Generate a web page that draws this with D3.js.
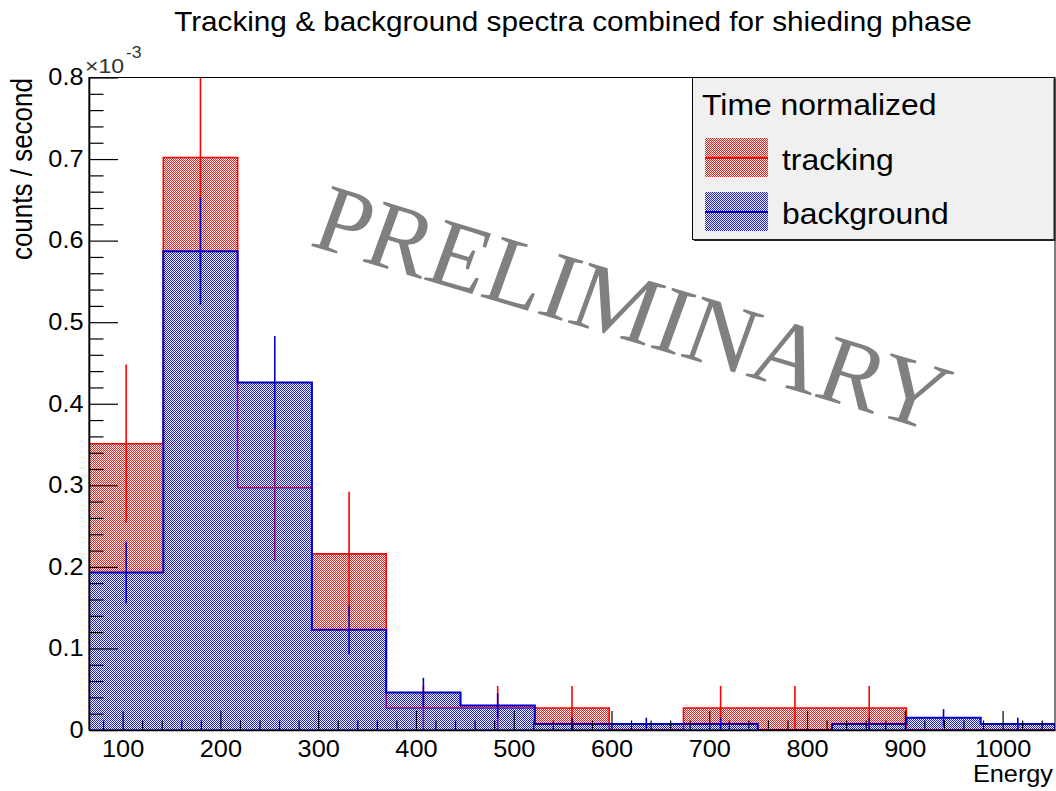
<!DOCTYPE html>
<html>
<head>
<meta charset="utf-8">
<script src="https://cdn.jsdelivr.net/npm/d3@7"></script>
<style>
  html, body { margin: 0; padding: 0; background: #fff; }
  svg { display: block; }
  text { font-family: "Liberation Sans", Arial, Helvetica, sans-serif; fill: #000; }
</style>
</head>
<body>
<svg id="chart" width="1056" height="791"></svg>
<script>
// Energy bin edges (13 equal bins)
const binEdges = [65.6, 141.6, 217.6, 293.6, 369.6, 445.6, 521.6, 597.6, 673.6, 749.6, 825.6, 901.6, 977.6, 1053.6];

// Time-normalized rates, in units of 1e-3 counts / second
const trackingRate   = [0.351, 0.702, 0.297, 0.216, 0.027, 0.027, 0.027, 0, 0.027, 0.027, 0.027, 0, 0];
const trackingErr    = [0.097, 0.138, 0.090, 0.076, 0.027, 0.027, 0.027, 0, 0.027, 0.027, 0.027, 0, 0];
const backgroundRate = [0.193, 0.587, 0.426, 0.123, 0.046, 0.030, 0.0075, 0.0075, 0.0075, 0, 0.0075, 0.015, 0.0075];
const backgroundErr  = [0.038, 0.066, 0.057, 0.030, 0.018, 0.015, 0.0075, 0.0075, 0.0075, 0, 0.0075, 0.0106, 0.0075];

const xTickValues = [100, 200, 300, 400, 500, 600, 700, 800, 900, 1000];
const yTickValues = [0, 0.1, 0.2, 0.3, 0.4, 0.5, 0.6, 0.7, 0.8];
const yTickLabels = ["0", "0.1", "0.2", "0.3", "0.4", "0.5", "0.6", "0.7", "0.8"];

const seriesNames = ["tracking", "background"];

// Layout
const frame = { left: 89, right: 1055, top: 77.5, bottom: 730 };
const SX = 1.1; // horizontal text stretch

const svg = d3.select("#chart");

const x = d3.scaleLinear().domain([binEdges[0], binEdges[binEdges.length - 1]]).range([frame.left, frame.right]);
const y = d3.scaleLinear().domain([0, 0.8]).range([frame.bottom, frame.top]);

// Dotted fill patterns (transparent between the dots)
const defs = svg.append("defs");
function dotPattern(id, color) {
  const p = defs.append("pattern").attr("id", id)
    .attr("patternUnits", "userSpaceOnUse").attr("width", 2).attr("height", 2);
  p.append("rect").attr("x", 0).attr("y", 0).attr("width", 1).attr("height", 1)
    .attr("fill", color).attr("shape-rendering", "crispEdges");
  p.append("rect").attr("x", 1).attr("y", 1).attr("width", 1).attr("height", 1)
    .attr("fill", color).attr("shape-rendering", "crispEdges");
}
dotPattern("patRed", "#ff1a1a");
dotPattern("patBlue", "#1a1aff");

defs.append("clipPath").attr("id", "frameClip")
  .append("rect").attr("x", frame.left).attr("y", frame.top)
  .attr("width", frame.right - frame.left).attr("height", frame.bottom - frame.top);

function txt(g, str, tx, ty, size, anchor, extra) {
  return g.append("text")
    .attr("transform", `translate(${tx},${ty}) scale(${SX},1)` + (extra || ""))
    .attr("text-anchor", anchor)
    .attr("font-size", size)
    .text(str);
}

// Histograms
const plot = svg.append("g").attr("clip-path", "url(#frameClip)");

function histPoints(vals) {
  const pts = vals.map((v, i) => ({ e: binEdges[i], v }));
  pts.push({ e: binEdges[binEdges.length - 1], v: vals[vals.length - 1] });
  return pts;
}

const area = d3.area()
  .x(d => x(d.e))
  .y0(y(0))
  .y1(d => y(d.v))
  .curve(d3.curveStepAfter);

const edgeLine = d3.line().x(d => x(d.e)).y(d => y(d.v));

function drawHist(vals, errs, pat, lineColor, lineW, errColor) {
  const pts = histPoints(vals);
  plot.append("path").attr("d", area(pts)).attr("fill", `url(#${pat})`).attr("stroke", "none");
  // stepped outline
  const stepPts = [{ e: binEdges[0], v: 0 }];
  vals.forEach((v, i) => { stepPts.push({ e: binEdges[i], v }); stepPts.push({ e: binEdges[i + 1], v }); });
  stepPts.push({ e: binEdges[binEdges.length - 1], v: 0 });
  plot.append("path")
    .attr("d", edgeLine(stepPts))
    .attr("fill", "none").attr("stroke", lineColor).attr("stroke-width", lineW);
  // error bars at bin centres
  plot.append("g").selectAll("line")
    .data(vals.map((v, i) => ({ v, err: errs[i], c: (binEdges[i] + binEdges[i + 1]) / 2 })).filter(d => d.v > 0))
    .join("line")
    .attr("x1", d => x(d.c)).attr("x2", d => x(d.c))
    .attr("y1", d => y(d.v - d.err)).attr("y2", d => y(d.v + d.err))
    .attr("stroke", errColor).attr("stroke-width", 1.6);
}

drawHist(trackingRate, trackingErr, "patRed", "#ff0000", 1.6, "#ff0000");
drawHist(backgroundRate, backgroundErr, "patBlue", "#0000c8", 2, "#0000c8");

// Frame
svg.append("rect")
  .attr("x", frame.left).attr("y", frame.top)
  .attr("width", frame.right - frame.left).attr("height", frame.bottom - frame.top)
  .attr("fill", "none").attr("stroke", "#000").attr("stroke-width", 1);

// X axis (ticks pointing inward)
const xMinor = d3.range(80, 1054, 20).filter(v => v % 100 !== 0);
const xAxisMinor = svg.append("g").attr("transform", `translate(0,${frame.bottom})`)
  .call(d3.axisBottom(x).tickValues(xMinor).tickSizeInner(-9.5).tickSizeOuter(0).tickFormat(""));
xAxisMinor.select(".domain").remove();
const xAxis = svg.append("g").attr("transform", `translate(0,${frame.bottom})`)
  .call(d3.axisBottom(x).tickValues(xTickValues).tickSizeInner(-19).tickSizeOuter(0).tickPadding(10.5).tickFormat(d => String(d)));
xAxis.select(".domain").attr("stroke-width", 1.6);
xAxis.selectAll(".tick text")
  .attr("font-size", 23)
  .attr("transform", `scale(${SX},1)`).style("fill", "#000");

// Y axis
const yMinor = d3.range(0, 0.8001, 0.02).filter((v, i) => i % 5 !== 0);
const yAxisMinor = svg.append("g").attr("transform", `translate(${frame.left},0)`)
  .call(d3.axisLeft(y).tickValues(yMinor).tickSizeInner(-14.5).tickSizeOuter(0).tickFormat(""));
yAxisMinor.select(".domain").remove();
const yAxis = svg.append("g").attr("transform", `translate(${frame.left},0)`)
  .call(d3.axisLeft(y).tickValues(yTickValues).tickSizeInner(-29).tickSizeOuter(0).tickPadding(5)
    .tickFormat((d, i) => yTickLabels[i]));
yAxis.select(".domain").attr("stroke-width", 1.6);
yAxis.selectAll(".tick text")
  .attr("font-size", 23)
  .attr("transform", `scale(${SX},1)`).style("fill", "#000");
svg.selectAll(".tick line").attr("stroke", "#000").attr("stroke-width", 1.2);

// Exponent
const expo = svg.append("g");
txt(expo, "\u00d710", 85, 73, 21, "start").style("fill", "#333");
txt(expo, "-3", 126, 58, 16, "start").style("fill", "#333");

// Titles
txt(svg, "Tracking & background spectra combined for shieding phase", 573, 31, 27, "middle");
txt(svg, "Energy", 1053, 782, 23, "end");
txt(svg, "counts / second", 32, 78, 26, "end", " rotate(-90)");

// Watermark
svg.append("text")
  .attr("transform", `translate(308,245) scale(${SX},1) rotate(18.2)`)
  .style("font-family", "'Liberation Serif', 'Times New Roman', serif")
  .attr("font-size", 96)
  .attr("textLength", 600).attr("lengthAdjust", "spacingAndGlyphs")
  .style("fill", "#808080")
  .text("PRELIMINARY");

// Legend
const lg = svg.append("g");
lg.append("rect").attr("x", 692.5).attr("y", 77.5).attr("width", 362).attr("height", 162)
  .attr("fill", "#f0f0f0").attr("stroke", "#000").attr("stroke-width", 1);
lg.append("line").attr("x1", 694).attr("x2", 1055).attr("y1", 240).attr("y2", 240)
  .attr("stroke", "#222").attr("stroke-width", 2);
lg.append("line").attr("x1", 1054.5).attr("x2", 1054.5).attr("y1", 79).attr("y2", 241)
  .attr("stroke", "#222").attr("stroke-width", 2);
txt(lg, "Time normalized", 702, 115, 29, "start");

const legendRows = [
  { name: seriesNames[0], pat: "patRed", color: "#ff0000", top: 138 },
  { name: seriesNames[1], pat: "patBlue", color: "#0000c8", top: 192 }
];
legendRows.forEach(r => {
  lg.append("rect").attr("x", 705).attr("y", r.top).attr("width", 63).attr("height", 39)
    .attr("fill", `url(#${r.pat})`);
  lg.append("line").attr("x1", 705).attr("x2", 768).attr("y1", r.top + 20).attr("y2", r.top + 20)
    .attr("stroke", r.color).attr("stroke-width", 2);
  txt(lg, r.name, 782, r.top + 32, 29, "start");
});
</script>
</body>
</html>
